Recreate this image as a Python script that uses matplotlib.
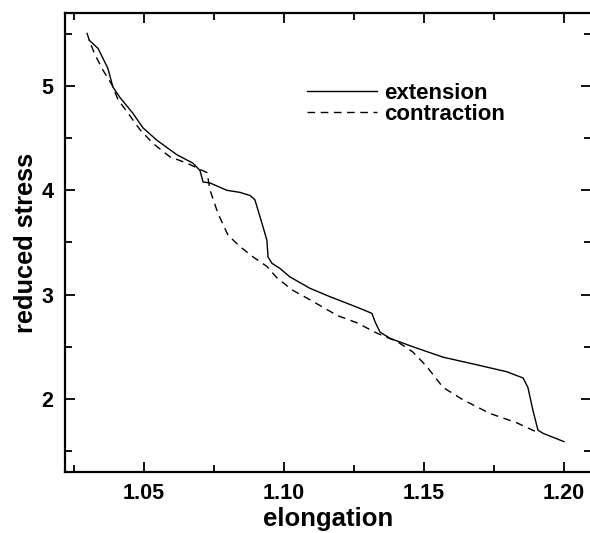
import matplotlib
matplotlib.use("Agg")
import matplotlib.pyplot as plt
from matplotlib.ticker import MultipleLocator

plt.rcParams['font.family'] = ['Liberation Sans', 'DejaVu Sans']
plt.rcParams['font.weight'] = 'bold'

ext_x = [1.0304, 1.0336, 1.0371, 1.0389, 1.0414, 1.0460, 1.0496, 1.0546, 1.0618, 1.0675,
         1.0700, 1.0711, 1.0736, 1.0796, 1.0843, 1.0879, 1.0896, 1.0925, 1.0939, 1.0943,
         1.0957, 1.0986, 1.1021, 1.1093, 1.1164, 1.1260, 1.1314, 1.1325, 1.1343, 1.1379,
         1.1460, 1.1568, 1.1700, 1.1796, 1.1854, 1.1871, 1.1889, 1.1907, 1.1925, 1.2000]
ext_y = [5.44, 5.36, 5.17, 4.99, 4.89, 4.74, 4.60, 4.48, 4.34, 4.26,
         4.19, 4.08, 4.07, 4.00, 3.98, 3.95, 3.91, 3.65, 3.52, 3.36,
         3.30, 3.25, 3.17, 3.06, 2.98, 2.88, 2.82, 2.74, 2.64, 2.58,
         2.50, 2.40, 2.32, 2.26, 2.20, 2.11, 1.89, 1.70, 1.67, 1.59]

con_x = [1.0296, 1.0307, 1.0325, 1.0354, 1.0386, 1.0407, 1.0443, 1.0486, 1.0532, 1.0593,
         1.0654, 1.0693, 1.0725, 1.0736, 1.0764, 1.0800, 1.0843, 1.0890, 1.0939, 1.0975,
         1.1032, 1.1093, 1.1190, 1.1260, 1.1332, 1.1404, 1.1460, 1.1510, 1.1568, 1.1640,
         1.1736, 1.1832, 1.1904]
con_y = [5.51, 5.42, 5.30, 5.15, 5.01, 4.87, 4.74, 4.58, 4.45, 4.32,
         4.26, 4.21, 4.17, 4.00, 3.78, 3.57, 3.46, 3.36, 3.27, 3.16,
         3.04, 2.95, 2.80, 2.73, 2.63, 2.55, 2.45, 2.31, 2.11, 1.99,
         1.86, 1.77, 1.68]

x_ticks = [1.05, 1.10, 1.15, 1.20]
x_tick_labels = ["1.05", "1.10", "1.15", "1.20"]
y_ticks = [2, 3, 4, 5]
y_tick_labels = ["2", "3", "4", "5"]

fig = plt.figure(figsize=(5.9, 5.33), dpi=100)
ax = fig.add_axes([65/590, (533-472)/533, (591-65)/590, (472-13)/533])

ax.plot(ext_x, ext_y, color='black', lw=1.0, label='extension')
ax.plot(con_x, con_y, color='black', lw=1.0, dashes=(5.5, 4), label='contraction')

ax.set_xlim(1.02179, 1.20964)
ax.set_ylim(1.299, 5.70)
ax.set_xticks(x_ticks)
ax.set_xticklabels(x_tick_labels)
ax.set_yticks(y_ticks)
ax.set_yticklabels(y_tick_labels)
ax.xaxis.set_minor_locator(MultipleLocator(0.025))
ax.yaxis.set_minor_locator(MultipleLocator(0.5))
ax.tick_params(which='both', direction='in', top=True, right=True, width=1.3, labelsize=15.5)
ax.tick_params(axis='x', which='major', pad=8)
ax.tick_params(axis='y', which='major', pad=8.5)
ax.tick_params(which='major', length=7.5)
ax.tick_params(which='minor', length=5)
for sp in ax.spines.values():
    sp.set_linewidth(1.6)
ax.spines['right'].set_visible(False)

ax.set_xlabel('elongation', fontsize=18.5, fontweight='bold', labelpad=2)
ax.set_ylabel('reduced stress', fontsize=18.3, fontweight='bold', labelpad=2)

leg = ax.legend(loc='upper left', bbox_to_anchor=((307-65)/526, 1 - (83-13)/459), frameon=False,
                fontsize=16, handlelength=3.15, handletextpad=0.3, labelspacing=0.0,
                borderpad=0, borderaxespad=0)
for t in leg.get_texts():
    t.set_fontweight('bold')

fig.savefig('out.png', dpi=100)
